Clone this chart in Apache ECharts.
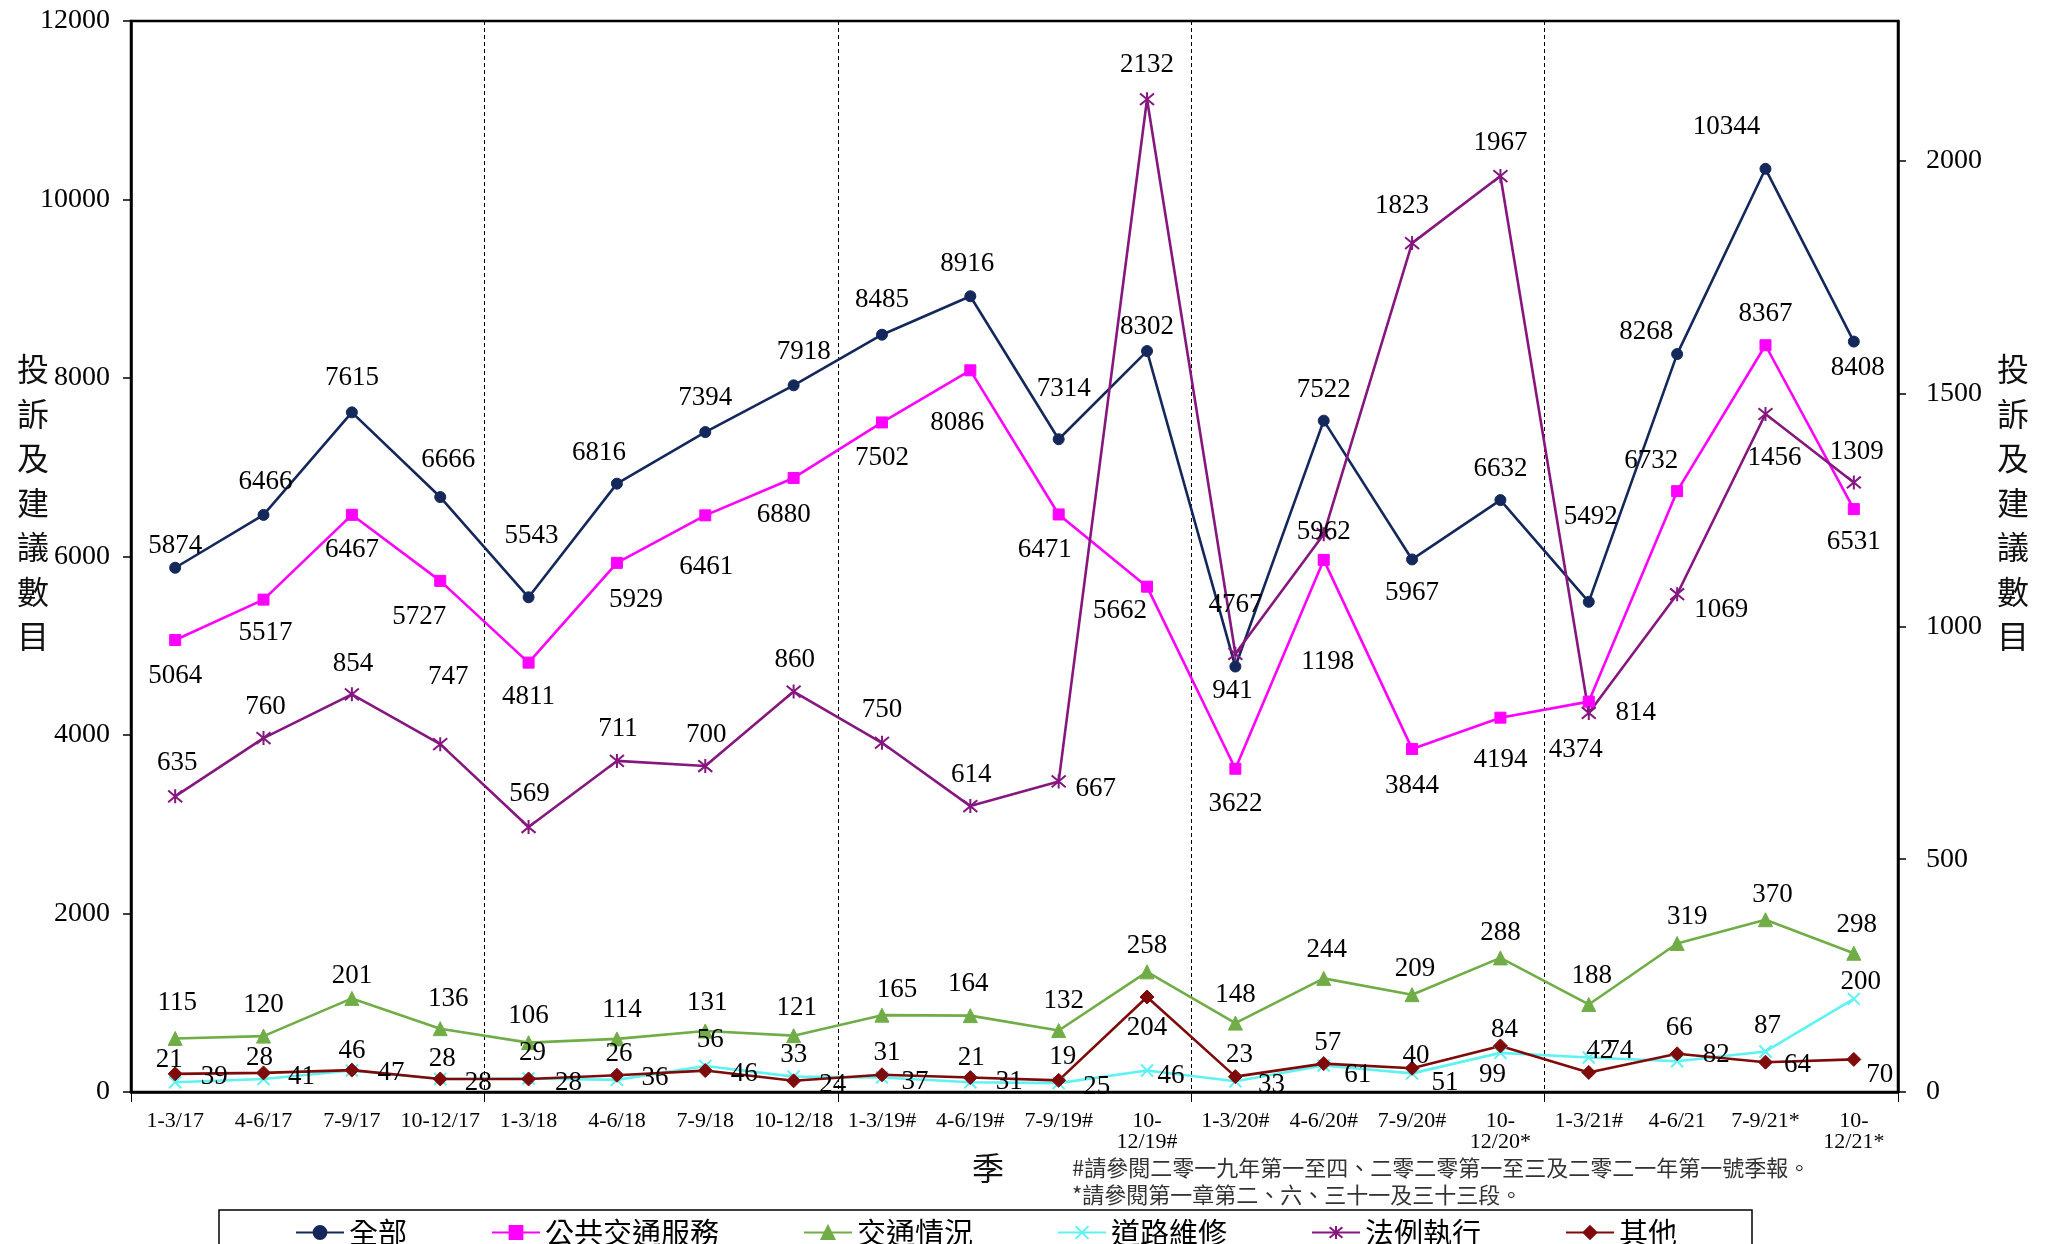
<!DOCTYPE html>
<html>
<head>
<meta charset="utf-8">
<script src="https://cdn.jsdelivr.net/npm/echarts@6/dist/echarts.min.js"></script>
<style>
html, body { margin: 0; padding: 0; background: #fff; }
#chart { width: 2053px; height: 1244px; }
</style>
</head>
<body>
<div id="chart"></div>
<script>
// Quarters (# and * refer to the footnotes below the axis)
const quarters = ['1-3/17', '4-6/17', '7-9/17', '10-12/17', '1-3/18', '4-6/18', '7-9/18', '10-12/18',
  '1-3/19#', '4-6/19#', '7-9/19#', '10-12/19#', '1-3/20#', '4-6/20#', '7-9/20#', '10-12/20*',
  '1-3/21#', '4-6/21', '7-9/21*', '10-12/21*'];

// Left axis series
const totalAll = [5874, 6466, 7615, 6666, 5543, 6816, 7394, 7918, 8485, 8916, 7314, 8302, 4767, 7522, 5967, 6632, 5492, 8268, 10344, 8408];
const publicTransport = [5064, 5517, 6467, 5727, 4811, 5929, 6461, 6880, 7502, 8086, 6471, 5662, 3622, 5962, 3844, 4194, 4374, 6732, 8367, 6531];

// Right axis series
const trafficConditions = [115, 120, 201, 136, 106, 114, 131, 121, 165, 164, 132, 258, 148, 244, 209, 288, 188, 319, 370, 298];
const roadMaintenance = [21, 28, 46, 28, 29, 26, 56, 33, 31, 21, 19, 46, 23, 57, 40, 84, 74, 66, 87, 200];
const enforcement = [635, 760, 854, 747, 569, 711, 700, 860, 750, 614, 667, 2132, 941, 1198, 1823, 1967, 814, 1069, 1456, 1309];
const others = [39, 41, 47, 28, 28, 36, 46, 24, 37, 31, 25, 204, 33, 61, 51, 99, 42, 82, 64, 70];

const leftTicks = [0, 2000, 4000, 6000, 8000, 10000, 12000];
const rightTicks = [0, 500, 1000, 1500, 2000];

// Where each value label sits relative to its point, in pixels [dx, dy]
const labelOffsets = {
  all: [[0,-22],[2,-33],[0,-34],[8,-37],[3,-61],[-18,-31],[0,-34],[10,-33],[0,-35],[-3,-32],[5,-50],[0,-24],[0,-62],[0,-31],[0,33],[0,-31],[2,-85],[-31,-22],[-39,-42],[4,26]],
  pub: [[0,36],[2,33],[0,35],[-21,36],[0,34],[19,37],[1,52],[-10,37],[0,35],[-13,53],[-14,35],[-27,24],[0,35],[0,-28],[0,37],[0,42],[-13,48],[-26,-30],[0,-31],[0,33]],
  traffic: [[2,-36],[0,-31],[0,-22],[8,-30],[0,-27],[5,-29],[2,-28],[3,-28],[15,-25],[-2,-32],[5,-30],[0,-26],[0,-28],[3,-28],[3,-26],[0,-25],[3,-29],[10,-27],[7,-25],[3,-28]],
  road: [[-6,-22],[-4,-21],[0,-20],[2,-20],[4,-26],[2,-26],[5,-26],[0,-22],[5,-25],[1,-24],[4,-26],[24,5],[4,-26],[4,-23],[4,-17],[4,-23],[31,-7],[2,-33],[2,-26],[7,-17]],
  enf: [[2,-33],[2,-31],[1,-30],[8,-67],[1,-33],[1,-32],[1,-31],[1,-32],[0,-33],[1,-31],[37,7],[0,-34],[-3,37],[4,128],[-10,-37],[0,-33],[47,0],[44,16],[9,44],[3,-31]],
  other: [[39,3],[38,4],[39,3],[38,4],[40,4],[38,3],[39,3],[39,4],[33,7],[39,4],[38,7],[0,31],[36,8],[34,11],[33,15],[-8,29],[11,-22],[39,1],[32,3],[26,16]]
};

const SERIF = '"Liberation Serif", "Times New Roman", serif';
const CJK = '"Noto Sans CJK TC", "Noto Sans CJK SC", sans-serif';

function withLabels(values, offsets) {
  return values.map((v, i) => ({ value: v, label: { offset: offsets[i] } }));
}

function lineSeries(name, values, offsets, color, symbol, size, yAxisIndex, extra) {
  return Object.assign({
    name: name,
    type: 'line',
    yAxisIndex: yAxisIndex,
    data: withLabels(values, offsets),
    symbol: symbol,
    symbolSize: size,
    showAllSymbol: true,
    lineStyle: { color: color, width: 2.6 },
    itemStyle: { color: color, borderColor: color, borderWidth: 1 },
    label: {
      show: true,
      position: 'inside',
      color: '#000',
      fontFamily: SERIF,
      fontSize: 27
    },
    emphasis: { disabled: true }
  }, extra || {});
}

const crossMark = 'path://M0,0L10,10M10,0L0,10';
const starMark = 'path://M0,0L10,10M10,0L0,10M5,-1L5,11';

const chart = echarts.init(document.getElementById('chart'), null, { renderer: 'canvas' });

const option = {
  animation: false,
  backgroundColor: '#fff',
  grid: {
    left: 131, right: 155, top: 21, bottom: 152,
    show: true, borderColor: '#000', borderWidth: 2.5, backgroundColor: 'transparent'
  },
  xAxis: {
    type: 'category',
    data: quarters,
    boundaryGap: true,
    axisLine: { lineStyle: { color: '#000', width: 2.5 } },
    axisTick: {
      show: true, length: 10, interval: (i) => i % 4 === 0,
      lineStyle: { color: '#000', width: 1 }
    },
    splitLine: {
      show: true, interval: (i) => i % 4 === 0 && i > 0,
      lineStyle: { color: '#000', width: 1, type: [4, 3] }
    },
    axisLabel: {
      interval: 0, margin: 19, color: '#000', fontFamily: SERIF, fontSize: 22, lineHeight: 21,
      formatter: (v) => v.length > 8 ? v.replace('-', '-\n') : v
    }
  },
  yAxis: [
    {
      type: 'value', position: 'left',
      min: leftTicks[0], max: leftTicks[leftTicks.length - 1], interval: leftTicks[1] - leftTicks[0],
      axisLine: { show: true, lineStyle: { color: '#000', width: 2.5 } },
      axisTick: { show: true, length: 8, lineStyle: { color: '#000', width: 1.5 } },
      splitLine: { show: false },
      axisLabel: {
        margin: 21, color: '#000', fontFamily: SERIF, fontSize: 28,
        formatter: (v) => String(v)
      }
    },
    {
      type: 'value', position: 'right',
      min: rightTicks[0], max: 2300, interval: rightTicks[1] - rightTicks[0],
      axisLine: { show: true, lineStyle: { color: '#000', width: 2.5 } },
      axisTick: { show: true, length: 8, lineStyle: { color: '#000', width: 1.5 } },
      splitLine: { show: false },
      axisLabel: {
        margin: 28, color: '#000', fontFamily: SERIF, fontSize: 28, showMaxLabel: false,
        formatter: (v) => rightTicks.indexOf(v) >= 0 ? String(v) : ''
      }
    }
  ],
  legend: {
    left: 290, top: 1213,
    itemWidth: 48, itemHeight: 16, itemGap: 84,
    textStyle: { color: '#000', fontFamily: CJK, fontSize: 29 },
    data: ['全部', '公共交通服務', '交通情況', '道路維修', '法例執行', '其他']
  },
  graphic: [
    {
      type: 'rect', z: -1,
      shape: { x: 219, y: 1210, width: 1533, height: 60 },
      style: { fill: '#fff', stroke: '#000', lineWidth: 1.5 }
    },
    {
      type: 'text', x: 1040, y: -4,
      style: {
        text: '(二零一七年第一季至二零二一年第四季)', fill: '#000',
        font: '34px ' + CJK, textAlign: 'center', textVerticalAlign: 'bottom'
      }
    },
    {
      type: 'text', x: 33, y: 347,
      style: {
        text: '投\n訴\n及\n建\n議\n數\n目', fill: '#111', font: '32px ' + CJK,
        lineHeight: 44.5, textAlign: 'center'
      }
    },
    {
      type: 'text', x: 2013, y: 347,
      style: {
        text: '投\n訴\n及\n建\n議\n數\n目', fill: '#111', font: '32px ' + CJK,
        lineHeight: 44.5, textAlign: 'center'
      }
    },
    {
      type: 'text', x: 988, y: 1168,
      style: { text: '季', fill: '#111', font: '32px ' + CJK, textAlign: 'center', textVerticalAlign: 'middle' }
    },
    {
      type: 'text', x: 1072, y: 1168,
      style: {
        text: '#請參閱二零一九年第一至四、二零二零第一至三及二零二一年第一號季報。',
        fill: '#333', font: '22px ' + CJK, textVerticalAlign: 'middle'
      }
    },
    {
      type: 'text', x: 1072, y: 1195,
      style: {
        text: '*請參閱第一章第二、六、三十一及三十三段。',
        fill: '#333', font: '22px ' + CJK, textVerticalAlign: 'middle'
      }
    }
  ],
  series: [
    lineSeries('全部', totalAll, labelOffsets.all, '#14285C', 'circle', 11, 0),
    lineSeries('公共交通服務', publicTransport, labelOffsets.pub, '#FF00FF', 'rect', 11, 0),
    lineSeries('交通情況', trafficConditions, labelOffsets.traffic, '#70AD47', 'triangle', 14, 1),
    lineSeries('道路維修', roadMaintenance, labelOffsets.road, '#5EF2F2', crossMark, 12, 1,
      { itemStyle: { color: '#5EF2F2', borderColor: '#5EF2F2', borderWidth: 2 } }),
    lineSeries('法例執行', enforcement, labelOffsets.enf, '#85177F', starMark, 14, 1,
      { itemStyle: { color: '#85177F', borderColor: '#85177F', borderWidth: 2 } }),
    lineSeries('其他', others, labelOffsets.other, '#7F0A0A', 'diamond', 14, 1)
  ]
};

chart.setOption(option);
</script>
</body>
</html>
